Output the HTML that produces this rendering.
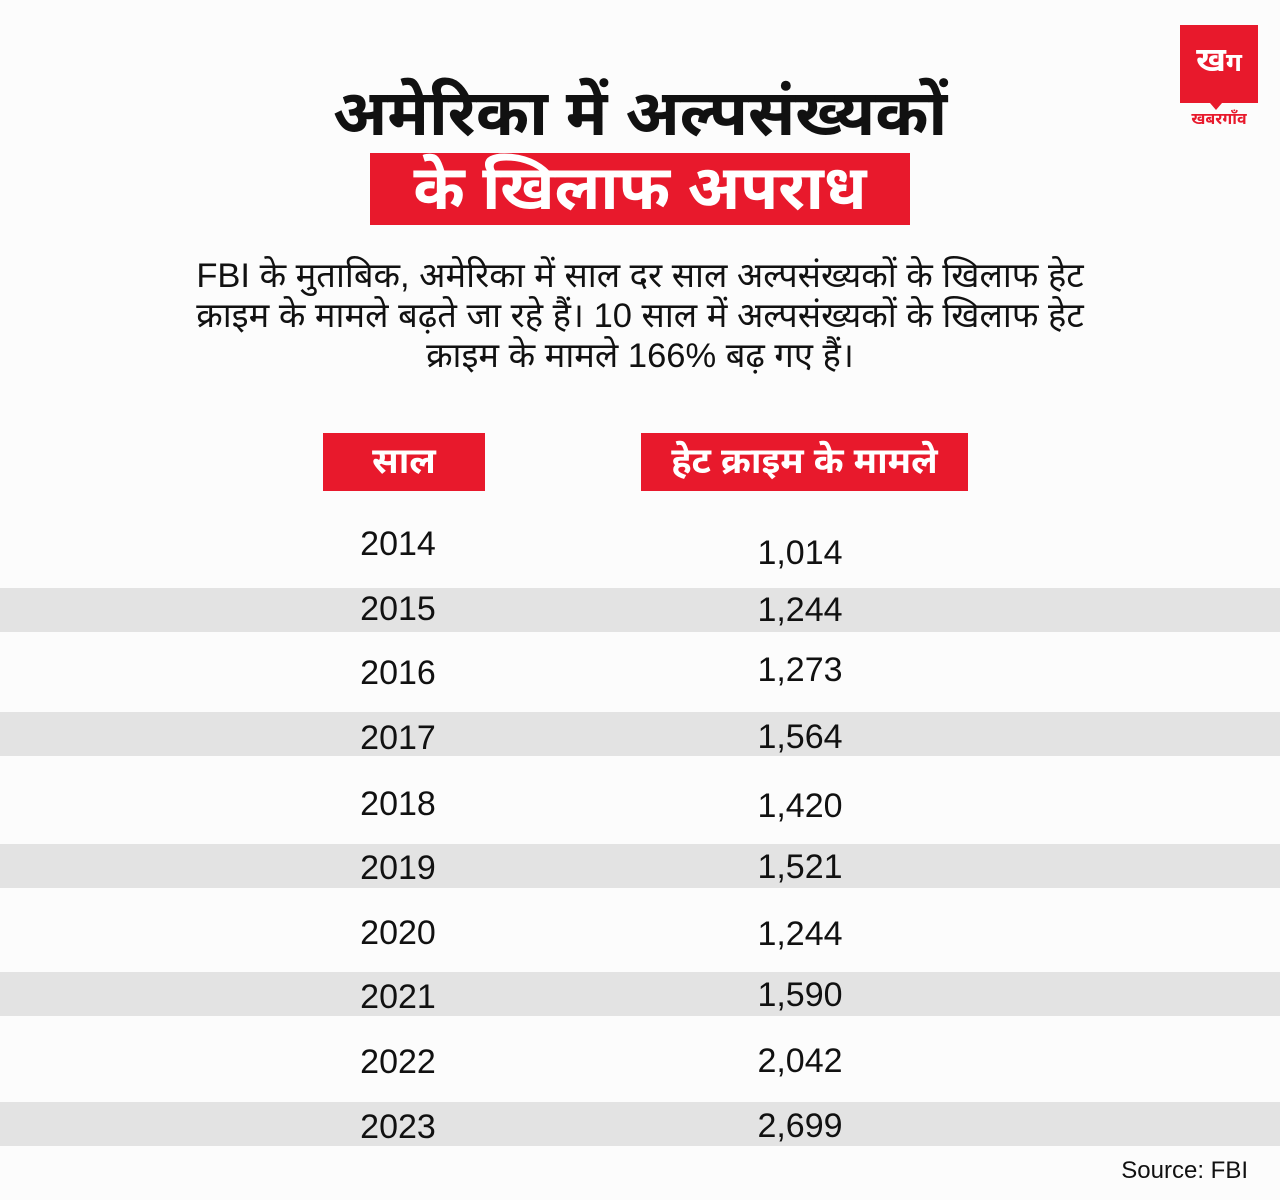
<!DOCTYPE html>
<html><head><meta charset="utf-8"><style>
body{margin:0;width:1280px;height:1200px;background:#fcfcfc;position:relative;overflow:hidden;font-family:"Liberation Sans","Noto Sans Devanagari","Lohit Devanagari",sans-serif;color:#111}
.a{position:absolute}
.stripe{position:absolute;left:0;width:1280px;height:44px;background:#e3e3e3}
.y,.v{position:absolute;width:200px;text-align:center;font-size:34px;line-height:40px}
.y{left:298px}.v{left:700px}
</style></head><body>
<div class="a" style="left:1180px;top:25px;width:78px;height:78px;background:#e8192c;color:#fff;font-size:34px;font-weight:bold;text-align:center;line-height:70px">ख<span style="font-size:26px">ग</span></div>
<div class="a" style="left:1210px;top:103px;width:0;height:0;border-left:6px solid transparent;border-right:6px solid transparent;border-top:7px solid #e8192c"></div>
<div class="a" style="left:1176px;top:110px;width:86px;text-align:center;color:#e8192c;font-size:16px;font-weight:bold">खबरगाँव</div>

<div class="a" style="left:0;top:76px;width:1280px;text-align:center;font-size:64px;font-weight:bold;line-height:74px">अमेरिका में अल्पसंख्यकों</div>
<div class="a" style="left:370px;top:153px;width:540px;height:72px;background:#e8192c;color:#fff;text-align:center;font-size:62px;font-weight:bold;line-height:72px">के खिलाफ अपराध</div>
<div class="a" style="left:40px;top:256px;width:1200px;text-align:center;font-size:34.5px;line-height:40px;white-space:nowrap">FBI के मुताबिक, अमेरिका में साल दर साल अल्पसंख्यकों के खिलाफ हेट<br>क्राइम के मामले बढ़ते जा रहे हैं। 10 साल में अल्पसंख्यकों के खिलाफ हेट<br>क्राइम के मामले 166% बढ़ गए हैं।</div>

<div class="a" style="left:323px;top:433px;width:162px;height:58px;background:#e8192c;color:#fff;text-align:center;font-size:36px;font-weight:bold;line-height:56px">साल</div>
<div class="a" style="left:641px;top:433px;width:327px;height:58px;background:#e8192c;color:#fff;text-align:center;font-size:36px;font-weight:bold;line-height:56px">हेट क्राइम के मामले</div>

<div class="stripe" style="top:588px"></div>
<div class="stripe" style="top:712px"></div>
<div class="stripe" style="top:844px"></div>
<div class="stripe" style="top:972px"></div>
<div class="stripe" style="top:1102px"></div>

<div class="y" style="top:524px">2014</div><div class="v" style="top:533px">1,014</div>
<div class="y" style="top:589px">2015</div><div class="v" style="top:590px">1,244</div>
<div class="y" style="top:653px">2016</div><div class="v" style="top:650px">1,273</div>
<div class="y" style="top:718px">2017</div><div class="v" style="top:717px">1,564</div>
<div class="y" style="top:784px">2018</div><div class="v" style="top:786px">1,420</div>
<div class="y" style="top:848px">2019</div><div class="v" style="top:847px">1,521</div>
<div class="y" style="top:913px">2020</div><div class="v" style="top:914px">1,244</div>
<div class="y" style="top:977px">2021</div><div class="v" style="top:975px">1,590</div>
<div class="y" style="top:1042px">2022</div><div class="v" style="top:1041px">2,042</div>
<div class="y" style="top:1107px">2023</div><div class="v" style="top:1106px">2,699</div>

<div class="a" style="left:1100px;top:1156px;width:148px;text-align:right;font-size:24px;line-height:30px;font-family:'Liberation Sans Narrow','Liberation Sans',sans-serif">Source: FBI</div>
</body></html>
